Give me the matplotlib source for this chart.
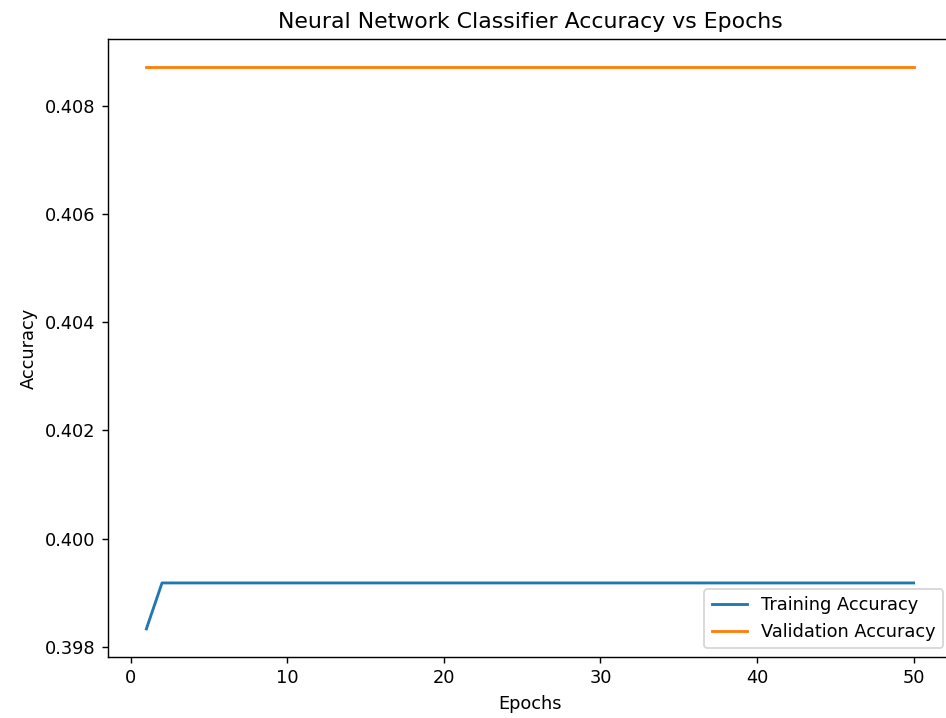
import matplotlib
matplotlib.use("Agg")
import matplotlib.pyplot as plt
import numpy as np

epochs = np.arange(1, 51)
train_acc = [0.39833] + [0.39918] * 49
val_acc = [0.40872] * 50

fig = plt.figure(figsize=(946 / 128, 718 / 128), dpi=128)
ax = fig.add_axes([108 / 946, 61 / 718, 844 / 946, 618 / 718])

ax.plot(epochs, train_acc, label='Training Accuracy', lw=1.6)
ax.plot(epochs, val_acc, label='Validation Accuracy', lw=1.6)

ax.set_title('Neural Network Classifier Accuracy vs Epochs', fontsize=12.4)
ax.set_xlabel('Epochs')
ax.set_ylabel('Accuracy')
ax.legend(loc='lower right')

fig.savefig('out.png', dpi=128)
